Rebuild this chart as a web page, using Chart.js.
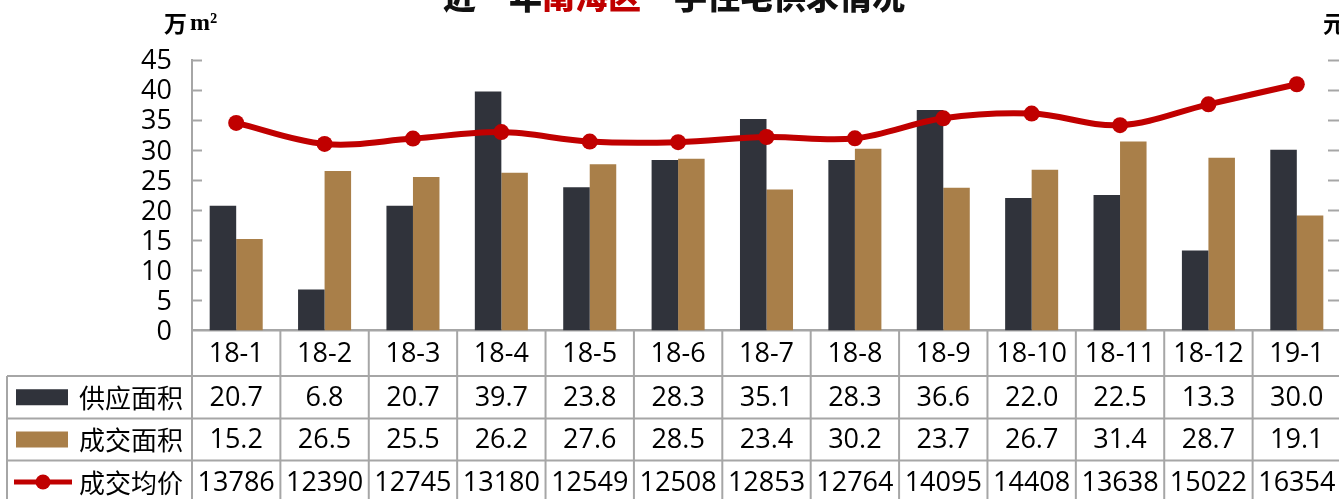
<!DOCTYPE html>
<html>
<head>
<meta charset="utf-8">
<script src="https://cdn.jsdelivr.net/npm/chart.js@4.4.1/dist/chart.umd.min.js"></script>
<style>
  html, body { margin: 0; padding: 0; background: #fff; overflow: hidden; width: 1339px; height: 499px; }
  canvas { display: block; }
</style>
</head>
<body>
<canvas id="c" width="1400" height="499"></canvas>
<script>
// Monthly figures, Nanhai district first-hand housing
const months      = ['18-1', '18-2', '18-3', '18-4', '18-5', '18-6', '18-7', '18-8', '18-9', '18-10', '18-11', '18-12', '19-1'];
const supplyArea  = [20.7, 6.8, 20.7, 39.7, 23.8, 28.3, 35.1, 28.3, 36.6, 22.0, 22.5, 13.3, 30.0];   // 万m²
const dealArea    = [15.2, 26.5, 25.5, 26.2, 27.6, 28.5, 23.4, 30.2, 23.7, 26.7, 31.4, 28.7, 19.1];   // 万m²
const avgPrice    = [13786, 12390, 12745, 13180, 12549, 12508, 12853, 12764, 14095, 14408, 13638, 15022, 16354]; // 元/m²
const areaTicks   = [0, 5, 10, 15, 20, 25, 30, 35, 40, 45];
const priceTicks  = [0, 2000, 4000, 6000, 8000, 10000, 12000, 14000, 16000, 18000];
const seriesNames = ['供应面积', '成交面积', '成交均价'];
const titleParts  = [['近一年', '#111111'], ['南海区', '#c00000'], ['一手住宅供求情况', '#111111']];

const DARK = '#30333b';
const TAN = '#a97f49';
const RED = '#c00000';
const GRID = '#a6a6a6';
const TEXT = '#000000';
const FONT = '"Open Sans", "Noto Sans CJK SC", sans-serif';
const CJK = '"Noto Sans CJK SC", sans-serif';

// Data table under the plot, inward axis ticks and headings
const decorations = {
  id: 'decorations',
  afterDraw(chart) {
    const { ctx, chartArea, scales } = chart;
    const x = scales.x, y = scales.y, y1 = scales.y1;
    const n = months.length;
    const colW = (chartArea.right - chartArea.left) / n;
    const top = chartArea.bottom;
    const rowEdges = [top, top + 45.5, top + 88, top + 130, top + 173];
    const tableLeft = 7;

    ctx.save();

    // inward tick marks on both value axes
    ctx.strokeStyle = GRID;
    ctx.lineWidth = 2;
    areaTicks.forEach(v => {
      if (v === 0) return;
      const py = Math.round(y.getPixelForValue(v)) + 0.5;
      ctx.beginPath(); ctx.moveTo(chartArea.left, py); ctx.lineTo(chartArea.left + 10, py); ctx.stroke();
    });
    priceTicks.forEach(v => {
      if (v === 0) return;
      const py = Math.round(y1.getPixelForValue(v)) + 0.5;
      ctx.beginPath(); ctx.moveTo(chartArea.right, py); ctx.lineTo(chartArea.right - 13, py); ctx.stroke();
    });

    // table grid
    ctx.lineWidth = 2;
    for (let i = 0; i <= n; i++) {
      const px = chartArea.left + i * colW;
      ctx.beginPath(); ctx.moveTo(px, top); ctx.lineTo(px, 499); ctx.stroke();
    }
    ctx.beginPath(); ctx.moveTo(tableLeft, rowEdges[1]); ctx.lineTo(tableLeft, 499); ctx.stroke();
    for (let r = 1; r < rowEdges.length; r++) {
      ctx.beginPath(); ctx.moveTo(tableLeft, rowEdges[r]); ctx.lineTo(chartArea.right, rowEdges[r]); ctx.stroke();
    }

    // cell text
    ctx.fillStyle = TEXT;
    ctx.textAlign = 'center';
    ctx.textBaseline = 'middle';
    ctx.font = '27px ' + FONT;
    const rowsText = [months, supplyArea.map(v => v.toFixed(1)), dealArea.map(v => v.toFixed(1)), avgPrice.map(String)];
    rowsText.forEach((row, r) => {
      const cy = (rowEdges[r] + rowEdges[r + 1]) / 2 + 1;
      row.forEach((t, i) => ctx.fillText(t, x.getPixelForValue(i), cy));
    });

    // legend column
    ctx.textAlign = 'left';
    ctx.font = '26px ' + CJK;
    seriesNames.forEach((name, k) => {
      const cy = (rowEdges[k + 1] + rowEdges[k + 2]) / 2;
      if (k < 2) {
        ctx.fillStyle = k === 0 ? DARK : TAN;
        ctx.fillRect(16, cy - 8, 52, 16);
      } else {
        ctx.strokeStyle = RED;
        ctx.lineWidth = 5;
        ctx.beginPath(); ctx.moveTo(14, cy); ctx.lineTo(72, cy); ctx.stroke();
        ctx.fillStyle = RED;
        ctx.beginPath(); ctx.arc(43, cy, 7.5, 0, Math.PI * 2); ctx.fill();
      }
      ctx.fillStyle = TEXT;
      ctx.fillText(name, 79, cy + 1);
    });

    // axis units
    ctx.fillStyle = TEXT;
    ctx.textAlign = 'left';
    ctx.font = 'bold 23px ' + CJK;
    ctx.fillText('万', 164, 23);
    ctx.font = 'bold 24px "Liberation Serif", serif';
    ctx.fillText('m²', 190, 24);
    ctx.font = 'bold 23px ' + CJK;
    ctx.fillText('元/m²', 1323, 23);

    // heading, partly above the top edge
    ctx.font = '900 33px ' + CJK;
    const total = titleParts.reduce((s, p) => s + ctx.measureText(p[0]).width, 0);
    let tx = 674 - total / 2;
    ctx.textBaseline = 'alphabetic';
    titleParts.forEach(([t, c]) => {
      ctx.fillStyle = c;
      ctx.fillText(t, tx, 9);
      tx += ctx.measureText(t).width;
    });

    ctx.restore();
  }
};

new Chart(document.getElementById('c'), {
  data: {
    labels: months,
    datasets: [
      { type: 'line', label: seriesNames[2], data: avgPrice, yAxisID: 'y1', order: 0,
        borderColor: RED, backgroundColor: RED, borderWidth: 6, tension: 0.35,
        pointRadius: 8, pointBackgroundColor: RED, pointBorderWidth: 0, clip: false },
      { type: 'bar', label: seriesNames[0], data: supplyArea, yAxisID: 'y', order: 1,
        backgroundColor: DARK, categoryPercentage: 0.6, barPercentage: 1.0 },
      { type: 'bar', label: seriesNames[1], data: dealArea, yAxisID: 'y', order: 1,
        backgroundColor: TAN, categoryPercentage: 0.6, barPercentage: 1.0 }
    ]
  },
  options: {
    responsive: false,
    animation: false,
    devicePixelRatio: 1,
    layout: { padding: { top: 59.5, left: 0, right: 0, bottom: 0 } },
    plugins: { legend: { display: false }, tooltip: { enabled: false }, title: { display: false } },
    scales: {
      x: {
        offset: true,
        grid: { display: false, drawTicks: false },
        border: { display: true, color: GRID, width: 2.5 },
        ticks: { display: false },
        afterFit: s => { s.height = 168.5; }
      },
      y: {
        position: 'left',
        min: 0, max: 45,
        afterBuildTicks: s => { s.ticks = areaTicks.map(v => ({ value: v })); },
        grid: { display: false, drawTicks: false },
        border: { display: true, color: GRID, width: 2 },
        ticks: { autoSkip: false, padding: 20, color: TEXT, font: { family: FONT, size: 27 }, labelOffset: 2 },
        afterFit: s => { s.width = 192; }
      },
      y1: {
        position: 'right',
        min: 0, max: 18000,
        afterBuildTicks: s => { s.ticks = priceTicks.map(v => ({ value: v })); },
        grid: { display: false, drawTicks: false },
        border: { display: true, color: GRID, width: 2 },
        ticks: { display: false },
        afterFit: s => { s.width = 59; }
      }
    }
  },
  plugins: [decorations]
});
</script>
</body>
</html>
